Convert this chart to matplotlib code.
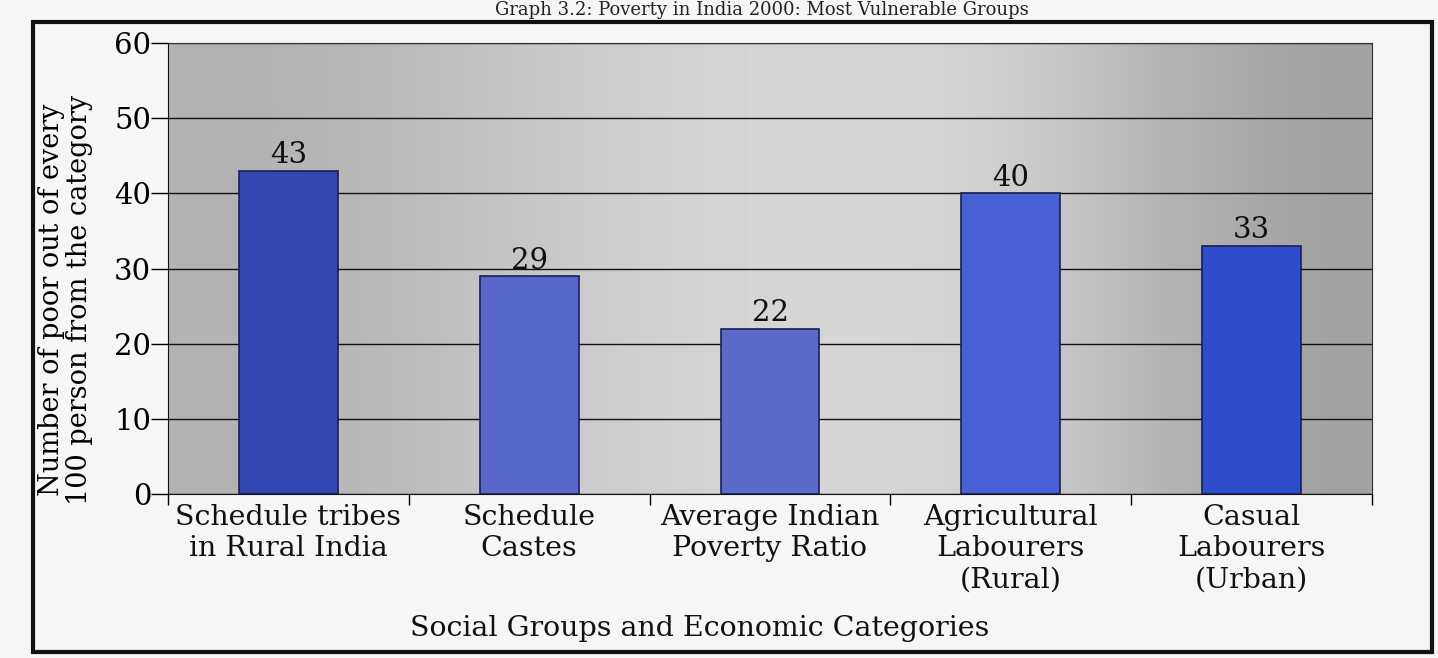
import matplotlib
matplotlib.use("Agg")
import matplotlib.pyplot as plt
import numpy as np
from matplotlib.patches import Rectangle

categories = ["Schedule tribes\nin Rural India", "Schedule\nCastes",
              "Average Indian\nPoverty Ratio", "Agricultural\nLabourers\n(Rural)",
              "Casual\nLabourers\n(Urban)"]
values = [43, 29, 22, 40, 33]
labels = ["43", "29", "22", "40", "33"]
yticks = [0, 10, 20, 30, 40, 50, 60]
bar_colors = ["#3347b2", "#5767c9", "#5b6ac6", "#4760d4", "#2e4dcb"]

plt.rcParams['font.family'] = ['DejaVu Serif']

fig = plt.figure(figsize=(14.38, 6.58), dpi=100)
fig.patch.set_facecolor("#f8f6f4")

# outer frame
fig.add_artist(Rectangle((33/1438, 1-652/658), (1432-33)/1438, (652-22)/658,
                         transform=fig.transFigure, fill=False, lw=3, ec="#111111"))

# title at the top edge (cut off in the scan)
fig.text(0.53, 1-1/658, "Graph 3.2: Poverty in India 2000: Most Vulnerable Groups",
         ha="center", va="top", fontsize=13, color="#222222")

ax = fig.add_axes([168/1438, 1-494/658, (1372-168)/1438, (494-43)/658])

x = np.arange(len(values))
ax.set_xlim(-0.5, len(values)-0.5)
ax.set_ylim(0, 60)

# background gradient
grad = np.array([[0.70, 0.72, 0.77, 0.81, 0.84, 0.84, 0.80, 0.70, 0.63]])
ax.imshow(grad, cmap="gray", vmin=0, vmax=1, aspect="auto",
          extent=(-0.5, len(values)-0.5, 0, 60), zorder=0, interpolation="bicubic")

ax.bar(x, values, width=0.41, color=bar_colors, edgecolor="#1a1f55", linewidth=1.2, zorder=3)
for xi, v, lab in zip(x, values, labels):
    ax.text(xi, v + 0.2, lab, ha="center", va="bottom", fontsize=21, color="#111111", zorder=4)

ax.set_yticks(yticks)
ax.set_yticklabels([str(t) for t in yticks], fontsize=21)
ax.yaxis.grid(True, color="#111111", lw=1.0, zorder=1)
ax.set_axisbelow(True)
ax.tick_params(axis="y", length=12, width=1, pad=0, direction="out")

ax.set_xticks(np.arange(-0.5, len(values), 1.0))
ax.set_xticklabels([])
ax.tick_params(axis="x", length=8, width=1, direction="out")
for xi, c in zip(x, categories):
    ax.text(xi, -1.3, c, ha="center", va="top", fontsize=20.5, linespacing=1.2,
            transform=ax.transData, color="#111111")

for s in ["top", "right"]:
    ax.spines[s].set_visible(True)
    ax.spines[s].set_color("#333333")
ax.spines["left"].set_color("#111111")
ax.spines["bottom"].set_color("#111111")

ax.set_ylabel("Number of poor out of every\n100 person from the category", fontsize=19.5,
              linespacing=1.05)
ax.yaxis.set_label_coords(-0.062, 0.43)

fig.text(700/1438, 1-628/658, "Social Groups and Economic Categories",
         ha="center", va="center", fontsize=20.5, color="#111111")

fig.savefig("out.png", dpi=100, facecolor=fig.get_facecolor())
